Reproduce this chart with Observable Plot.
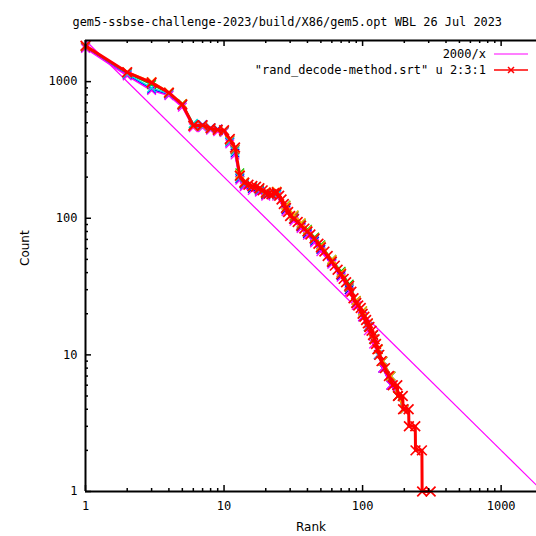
<!DOCTYPE html>
<html><head><meta charset="utf-8">
<script src="https://cdn.jsdelivr.net/npm/d3@7"></script>
<script src="https://cdn.jsdelivr.net/npm/@observablehq/plot@0.6"></script>
<style>body{margin:0;background:#fff;} #chart svg{display:block;}</style>
</head><body><div id="chart"></div>
<script>
const titleText = "gem5-ssbse-challenge-2023/build/X86/gem5.opt WBL 26 Jul 2023";
const xLabel = "Rank";
const yLabel = "Count";
const legendLabels = ["2000/x", "\"rand_decode-method.srt\" u 2:3:1"];
const xTickLabels = [1, 10, 100, 1000];
const yTickLabels = [1, 10, 100, 1000];

// reference curve 2000/x (sampled)
const refX = [1, 10, 100, 1000, 1800];
const refY = [2000, 200, 20, 2, 1.111];

// main (red) series: rank, count
const redRanks  = [1, 2, 3, 4, 5, 6, 7, 8, 9, 10, 11, 12, 13, 14, 15, 16, 17, 18, 19, 20, 21, 22, 23, 24, 25, 26, 27, 28, 29, 30, 32, 34, 36, 38, 40, 42, 45, 48, 50, 53, 56, 60, 63, 66, 70, 73, 76, 80, 83, 86, 90, 93, 97, 100, 103, 106, 109, 112, 116, 119, 122, 125, 128, 132, 137, 145, 155, 165, 178, 180, 195, 196, 215, 216, 240, 241, 268, 269, 310];
const redCounts = [1830, 1170, 985, 830, 680, 475, 480, 455, 445, 440, 380, 330, 205, 182, 176, 172, 170, 166, 160, 154, 151, 150, 153, 155, 146, 137, 127, 119, 111, 104, 99, 94, 88, 84, 80, 76, 71, 65, 61, 57, 53, 48, 45, 42, 39, 36, 34, 32, 29, 26, 24, 23, 22, 20, 19, 18, 17, 16, 15, 14, 13, 12, 11, 10, 9, 8, 7, 6, 6, 5, 5, 4, 4, 3, 3, 2, 2, 1, 1];

// other runs (coloured by column 1)
const varRanks = [1, 2, 3, 4, 5, 6, 7, 8, 9, 10, 11, 12, 13, 14, 16, 18, 20, 24, 28, 32, 36, 40, 45, 50, 60, 70, 80, 90, 100, 110, 120, 130, 140, 160, 180, 200];
const greenCounts   = [1800, 1150, 950, 820, 690, 490, 470, 450, 440, 430, 370, 320, 215, 182, 168, 160, 150, 152, 125, 105, 92, 83, 73, 64, 50, 41, 33, 25, 21, 17, 14, 11, 9, 7, 5, 4];
const blueCounts    = [1780, 1120, 880, 800, 670, 470, 485, 460, 450, 435, 360, 300, 195, 175, 165, 158, 148, 150, 115, 98, 86, 77, 68, 59, 47, 38, 30, 24, 19, 16, 13, 10, 8, 6, 5, 4];
const magentaCounts = [1750, 1100, 860, 790, 650, 460, 460, 440, 430, 425, 350, 290, 190, 170, 160, 155, 145, 145, 112, 95, 84, 75, 66, 57, 46, 37, 29, 23, 19, 15, 12, 10, 8, 6, 5, 4];
const cyanCounts    = [1820, 1140, 900, 815, 675, 495, 470, 450, 445, 430, 365, 310, 200, 178, 170, 162, 153, 148, 118, 100, 89, 79, 70, 61, 48, 39, 31, 24, 20, 16, 13, 10, 9, 7, 5, 4];
const brownCounts   = [1790, 1160, 970, 825, 685, 480, 478, 452, 443, 432, 372, 318, 205, 180, 171, 163, 150, 154, 120, 103, 90, 80, 71, 62, 49, 40, 31, 25, 20, 16, 13, 11, 9, 7, 5, 4];
const orangeCounts  = [1810, 1180, 1000, 840, 690, 470, 475, 455, 440, 438, 375, 325, 210, 185, 172, 166, 156, 158, 124, 106, 93, 82, 72, 63, 50, 40, 32, 25, 21, 17, 13, 11, 9, 7, 5, 4];

const variants = [
  {name: "g", color: "#00c000", counts: greenCounts},
  {name: "b", color: "#0000ff", counts: blueCounts},
  {name: "m", color: "#ff00ff", counts: magentaCounts},
  {name: "c", color: "#00e0e0", counts: cyanCounts},
  {name: "s", color: "#a0522d", counts: brownCounts},
  {name: "o", color: "#ffa500", counts: orangeCounts}
];

const refData = refX.slice(1).map((x, i) => ({x1: refX[i], y1: refY[i], x2: x, y2: refY[i + 1]}));
const redData = redRanks.map((r, i) => ({rank: r, count: redCounts[i]}));
const varData = variants.flatMap(v => varRanks.map((r, i) => ({series: v.name, color: v.color, rank: r, count: v.counts[i]})));

const xMinor = [1, 10, 100, 1000].flatMap(d => [2,3,4,5,6,7,8,9].map(k => d * k)).filter(v => v < 1800);
const yMinor = [1, 10, 100, 1000].flatMap(d => [2,3,4,5,6,7,8,9].map(k => d * k)).filter(v => v < 2000);

const font = "DejaVu Sans Mono";
const FW = 451, FH = 451;

const plot = Plot.plot({
  width: 536, height: 536,
  marginTop: 40, marginBottom: 45, marginLeft: 85, marginRight: 0,
  style: {fontFamily: font, fontSize: "12px", background: "#fff", color: "#000"},
  x: {type: "log", domain: [1, 1800]},
  y: {type: "log", domain: [1, 2000]},
  marks: [
    Plot.link(refData, {x1: "x1", y1: "y1", x2: "x2", y2: "y2", stroke: "#ff00ff", strokeWidth: 1.2}),
    Plot.line(varData, {x: "rank", y: "count", z: "series", stroke: "color", strokeWidth: 1.5}),
    Plot.dot(varData, {x: "rank", y: "count", stroke: "color", symbol: "times", r: 4, strokeWidth: 1.3}),
    Plot.line(redData, {x: "rank", y: "count", stroke: "#ff0000", strokeWidth: 3}),
    Plot.dot(redData, {x: "rank", y: "count", stroke: "#ff0000", symbol: "times", r: 4.5, strokeWidth: 1.7}),
    // frame (top, left, bottom)
    Plot.ruleY([1, 2000], {stroke: "#000", strokeWidth: 2}),
    Plot.ruleX([1], {stroke: "#000", strokeWidth: 2}),
    // inward ticks
    Plot.tickX(xTickLabels, {x: d => d, insetTop: FH - 6, stroke: "#000", strokeWidth: 1.5}),
    Plot.tickX(xTickLabels, {x: d => d, insetBottom: FH - 6, stroke: "#000", strokeWidth: 1.5}),
    Plot.tickX(xMinor, {x: d => d, insetTop: FH - 3, stroke: "#000", strokeWidth: 1.5}),
    Plot.tickX(xMinor, {x: d => d, insetBottom: FH - 3, stroke: "#000", strokeWidth: 1.5}),
    Plot.tickY(yTickLabels, {y: d => d, insetRight: FW - 6, stroke: "#000", strokeWidth: 1.5}),
    Plot.tickY(yMinor, {y: d => d, insetRight: FW - 3, stroke: "#000", strokeWidth: 1.5}),
    Plot.axisX(xTickLabels, {tickSize: 0, tickPadding: 10, tickFormat: d => String(d), label: null, fontSize: 12}),
    Plot.axisY(yTickLabels, {tickSize: 0, tickPadding: 8, tickFormat: d => String(d), label: null, fontSize: 12}),
    Plot.text([xLabel], {frameAnchor: "bottom", dy: 39, fontSize: 12, fontFamily: "DejaVu Sans"}),
    Plot.text([yLabel], {frameAnchor: "left", dx: -60, rotate: -90, fontSize: 12, fontFamily: "DejaVu Sans"}),
    Plot.text([titleText], {frameAnchor: "top-left", dx: -13, dy: -23, textAnchor: "start", fontSize: 11.9})
  ]
});

// legend (key) at top right, gnuplot style
const svg = d3.select(plot);
const g = svg.append("g").attr("font-family", font).attr("font-size", 12);
const legendColors = ["#ff00ff", "#ff0000"];
const legendWidths = [1.2, 1.5];
legendLabels.forEach((lab, i) => {
  const y = 54 + i * 16;
  g.append("text").attr("x", 486).attr("y", y).attr("text-anchor", "end").attr("dy", "0.35em").attr("fill", "#000").text(lab);
  g.append("line").attr("x1", 494).attr("x2", 528).attr("y1", y).attr("y2", y).attr("stroke", legendColors[i]).attr("stroke-width", legendWidths[i]);
  if (i === 1) {
    g.append("path").attr("d", `M${508},${y-3}L${514},${y+3}M${508},${y+3}L${514},${y-3}`).attr("stroke", "#ff0000").attr("stroke-width", 1.5);
  }
});

document.getElementById("chart").appendChild(plot);
</script>
</body></html>
